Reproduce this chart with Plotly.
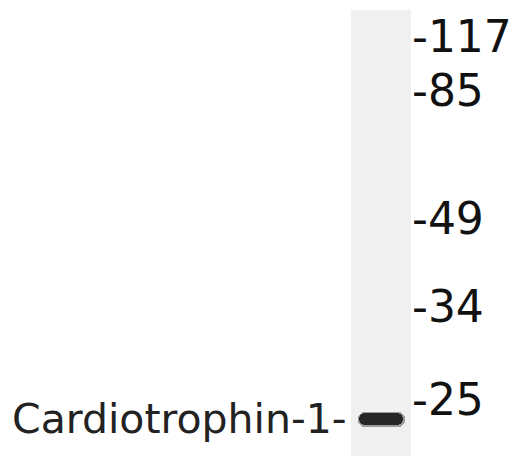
import plotly.graph_objects as go

# Molecular weight markers (kDa) and their migration distance from the top of the blot (px units)
marker_kda = [117, 85, 49, 34, 25]
marker_pos = [36, 90, 218, 306, 399]

# Sample lane and detected band
lane_top = 10
lane_bottom = 470
band_name = "Cardiotrophin-1"
band_pos = 419
band_thickness = 12

W, H = 528, 456
OFF = 8  # page body margin compensation
lane_x = 381
lane_w = 60
band_w = 44

fig = go.Figure()

# lane
fig.add_trace(go.Bar(x=[lane_x], y=[lane_bottom - lane_top], base=[lane_top], width=[lane_w],
                     marker=dict(color="#f0f0f0", line=dict(width=0)), hoverinfo="skip"))
# band halo (soft edge)
fig.add_trace(go.Bar(x=[lane_x], y=[band_thickness + 3], base=[band_pos - (band_thickness + 3) / 2],
                     width=[band_w + 3], marker=dict(color="rgba(50,50,50,0.45)", cornerradius=7,
                                                      line=dict(width=0)), hoverinfo="skip"))
# band core
fig.add_trace(go.Bar(x=[lane_x], y=[band_thickness], base=[band_pos - band_thickness / 2],
                     width=[band_w], marker=dict(color="#262626", cornerradius=6, line=dict(width=0)),
                     hoverinfo="skip"))

for kda, pos in zip(marker_kda, marker_pos):
    fig.add_annotation(x=410, y=pos, text=f"-{kda}", showarrow=False, xanchor="left", yanchor="middle",
                       font=dict(family="DejaVu Sans", size=44, color="#111111"))

fig.add_annotation(x=349, y=band_pos, text=f"{band_name}-", showarrow=False, xanchor="right",
                   yanchor="middle", font=dict(family="DejaVu Sans", size=41, color="#222222"))

fig.update_layout(width=W, height=H, margin=dict(l=0, r=0, t=0, b=0), paper_bgcolor="white",
                  plot_bgcolor="white", showlegend=False, barmode="overlay", bargap=0)
fig.update_xaxes(range=[OFF, W + OFF], visible=False, fixedrange=True)
fig.update_yaxes(range=[H + OFF, OFF], visible=False, fixedrange=True)

fig.write_html("out.html", config={"displayModeBar": False})
